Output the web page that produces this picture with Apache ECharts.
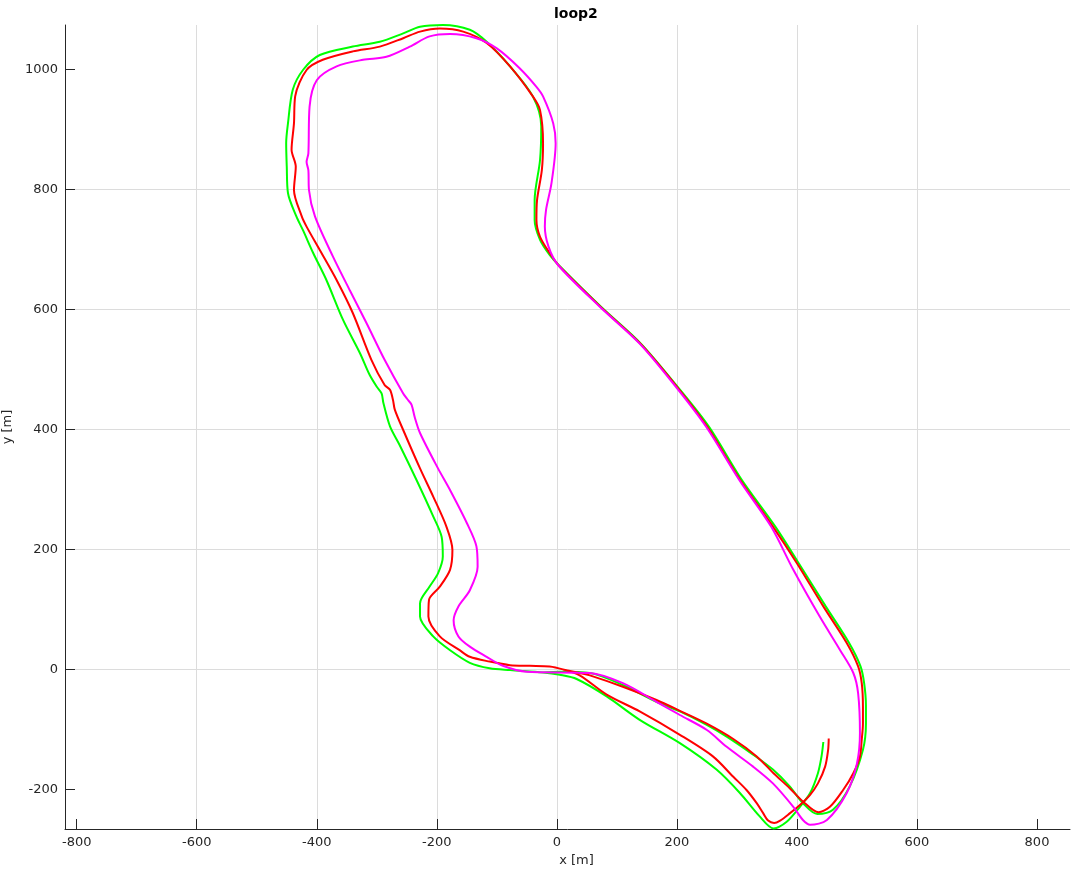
<!DOCTYPE html>
<html>
<head>
<meta charset="utf-8">
<script src="https://cdn.jsdelivr.net/npm/echarts@6/dist/echarts.min.js"></script>
<style>html,body{margin:0;padding:0;background:#fff}#c{width:1071px;height:875px}</style>
</head>
<body>
<div id="c"></div>
<script>
const titleText = 'loop2';
const xName = 'x [m]';
const yName = 'y [m]';
const xTicks = [-800, -600, -400, -200, 0, 200, 400, 600, 800];
const yTicks = [-200, 0, 200, 400, 600, 800, 1000];

const greenPts = [
  [444,-121],[441,-145],[435,-173],[422,-206],[405,-229],[383,-254],[361,-265],[338,-245],[305,-206],
  [266,-167],[205,-123],[138,-84],[83,-45],[33,-16],[5,-9],[-23,-5],[-78,-1],[-112,2],[-145,11],[-178,32],[-206,55],
  [-228,88],[-228,110],[-212,138],[-198,160],[-190,188],[-192,221],[-206,255],[-234,316],[-262,374],
  [-278,405],[-289,444],[-292,460],[-300,471],[-312,491],[-328,527],[-356,582],[-384,649],[-406,694],
  [-423,732],[-434,755],[-448,794],[-450,838],[-451,877],[-448,910],[-440,966],[-423,999],
  [-395,1024],[-340,1038],[-295,1046],[-256,1060],[-228,1071],[-190,1074],[-145,1066],[-117,1046],
  [-78,1005],[-40,955],[-26,905],[-28,849],[-37,782],[-37,749],[-28,716],[-12,691],[5,672],[74,604],
  [140,543],[202,470],[253,405],[308,316],[364,238],[403,177],[448,105],[487,44],[506,5],[512,-23],
  [515,-60],[515,-90],[510,-134],[488,-195],[460,-234],[434,-241],[410,-223],[388,-195],[360,-167],
  [327,-142],[283,-112],[249,-92],[205,-70],[166,-54],[110,-26],[55,-6],[5,-4],[-23,-5]
];

const redPts = [
  [453,-115],[452,-134],[447,-162],[435,-190],[422,-209],[405,-226],[388,-240],[372,-252],[362,-256],
  [352,-252],[344,-240],[333,-223],[316,-201],[294,-179],[260,-145],[205,-109],[138,-70],[83,-42],
  [38,-10],[10,0],[-12,5],[-45,6],[-78,7],[-112,13],[-145,21],[-162,32],[-195,55],[-214,88],[-213,116],[-195,138],
  [-178,166],[-174,199],[-184,238],[-206,288],[-228,335],[-256,399],[-270,433],[-273,449],[-278,466],
  [-287,474],[-309,516],[-340,594],[-367,649],[-395,699],[-417,738],[-425,755],[-438,799],[-435,838],
  [-442,866],[-438,910],[-436,955],[-417,999],[-390,1016],[-340,1030],[-295,1038],
  [-256,1052],[-228,1063],[-195,1068],[-156,1063],[-117,1044],[-78,1005],[-40,955],[-28,932],
  [-23,877],[-25,832],[-33,782],[-34,749],[-28,721],[-12,694],[5,671],[72,605],[138,544],[200,471],
  [250,405],[305,316],[360,238],[400,177],[444,105],[483,44],[502,5],[508,-23],[510,-62],[510,-90],
  [508,-117],[505,-145],[494,-173],[477,-201],[455,-229],[436,-238],[410,-220],[388,-198],[361,-173],
  [333,-145],[294,-116],[249,-90],[205,-69],[166,-51],[110,-29],[55,-10],[38,-6],[10,0]
];

const magentaPts = [
  [-0.5,-5],[55,-6],[110,-23],[166,-54],[205,-76],[250,-101],[283,-129],[327,-162],[360,-190],
  [394,-229],[410,-251],[422,-259],[450,-251],[483,-206],[500,-157],[505,-106],[502,-40],[494,-6],
  [472,32],[438,88],[394,166],[357,238],[305,314],[249,404],[199,470],[138,543],[72,604],[2,674],
  [-14,705],[-20,738],[-18,766],[-9,810],[-2,877],[-6,910],[-23,955],[-34,971],[-62,1002],[-100,1035],
  [-134,1052],[-178,1059],[-212,1055],[-245,1038],[-284,1021],[-323,1016],[-367,1005],[-400,982],
  [-412,938],[-414,860],[-417,846],[-414,832],[-413,799],[-403,755],[-373,688],[-345,632],[-317,577],
  [-287,516],[-256,460],[-248,449],[-242,441],[-237,421],[-228,394],[-198,335],[-178,299],
  [-150,244],[-134,205],[-132,171],[-145,132],[-164,105],[-172,82],[-164,55],[-145,38],[-117,21],
  [-90,6],[-50,-4],[-0.5,-5]
];

const chart = echarts.init(document.getElementById('c'), null, {renderer: 'canvas'});
const axisCol = '#262626';
const font = 'DejaVu Sans';
function lineSeries(data, color) {
  return {
    type: 'line', data: data, showSymbol: false, smooth: 0.3, animation: false,
    lineStyle: {color: color, width: 2}, itemStyle: {color: color}, clip: true
  };
}
function labelFmt(v) { return String(Math.round(v)); }
chart.setOption({
  animation: false,
  backgroundColor: '#fff',
  title: {
    text: titleText, left: 549, top: 2,
    textStyle: {fontFamily: font, fontSize: 14, fontWeight: 'bold', color: '#000'}
  },
  grid: {left: 65, top: 25, right: 1, bottom: 46, containLabel: false, outerBoundsMode: 'none'},
  xAxis: {
    type: 'value', min: -819.5, max: 855, splitNumber: 8,
    name: xName, nameLocation: 'middle', nameGap: 25,
    nameTextStyle: {fontFamily: font, fontSize: 13, color: axisCol, padding: [0, 0, 0, 18]},
    axisLine: {show: true, onZero: false, lineStyle: {color: axisCol, width: 1}},
    axisTick: {show: true, inside: true, length: 10, lineStyle: {color: axisCol, width: 1}, customValues: xTicks},
    axisLabel: {fontFamily: font, fontSize: 13, color: axisCol, margin: 7,
      customValues: xTicks, formatter: labelFmt},
    splitLine: {show: true, lineStyle: {color: '#dcdcdc', width: 1}, showMinLine: false, showMaxLine: false}
  },
  yAxis: {
    type: 'value', min: -266, max: 1074, splitNumber: 7,
    name: yName, nameLocation: 'middle', nameGap: 44, nameRotate: 90,
    nameTextStyle: {fontFamily: font, fontSize: 13, color: axisCol},
    axisLine: {show: true, onZero: false, lineStyle: {color: axisCol, width: 1}},
    axisTick: {show: true, inside: true, length: 10, lineStyle: {color: axisCol, width: 1}, customValues: yTicks},
    axisLabel: {fontFamily: font, fontSize: 13, color: axisCol, margin: 7,
      customValues: yTicks, formatter: labelFmt},
    splitLine: {show: true, lineStyle: {color: '#dcdcdc', width: 1}, showMinLine: false, showMaxLine: false}
  },
  series: [
    lineSeries(greenPts, '#00ff00'),
    lineSeries(redPts, '#ff0000'),
    lineSeries(magentaPts, '#ff00ff')
  ]
});
</script>
</body>
</html>
